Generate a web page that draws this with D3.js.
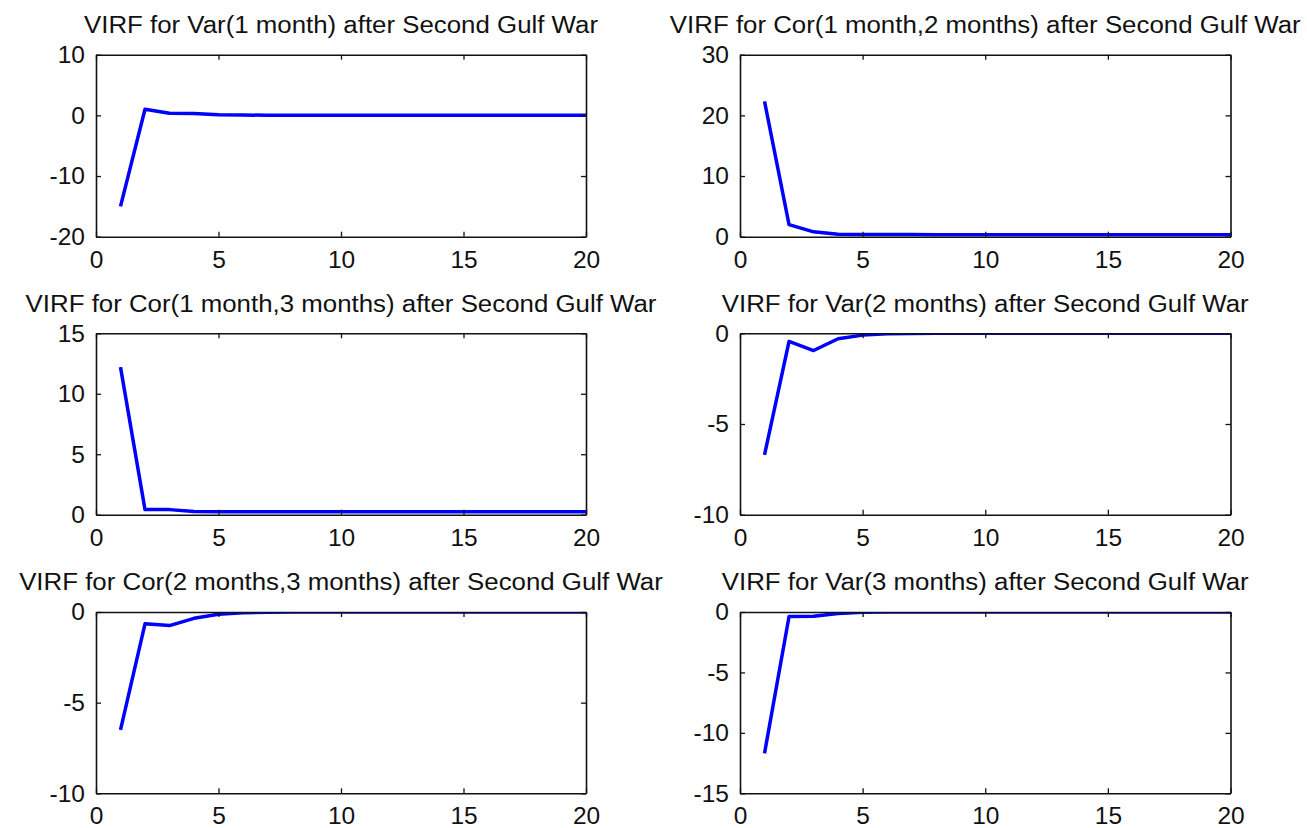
<!DOCTYPE html>
<html>
<head>
<meta charset="utf-8">
<script src="https://cdn.jsdelivr.net/npm/d3@7"></script>
<style>
  html, body { margin: 0; padding: 0; background: #fff; }
  svg { display: block; }
  .tick text { font-family: "Liberation Sans", Arial, sans-serif; fill: #111; }
</style>
</head>
<body>
<svg id="fig" width="1307" height="828"></svg>
<script>
// Forecast horizon (months ahead)
const horizon = [1, 2, 3, 4, 5, 6, 7, 8, 9, 10, 11, 12, 13, 14, 15, 16, 17, 18, 19, 20];

// Volatility impulse responses after the Second Gulf War shock
const virfVar1 = [-15.0, 1.0, 0.35, 0.3, 0.1, 0.05, 0.03, 0.02, 0.01, 0.01, 0, 0, 0, 0, 0, 0, 0, 0, 0, 0];
const virfCor12 = [22.3, 2.0, 0.8, 0.4, 0.36, 0.35, 0.35, 0.34, 0.34, 0.34, 0.34, 0.34, 0.34, 0.34, 0.34, 0.34, 0.34, 0.34, 0.34, 0.34];
const virfCor13 = [12.2, 0.42, 0.42, 0.27, 0.25, 0.24, 0.24, 0.24, 0.24, 0.24, 0.24, 0.24, 0.24, 0.24, 0.24, 0.24, 0.24, 0.24, 0.24, 0.24];
const virfVar2 = [-6.7, -0.45, -0.95, -0.3, -0.1, -0.03, -0.01, 0, 0, 0, 0, 0, 0, 0, 0, 0, 0, 0, 0, 0];
const virfCor23 = [-6.5, -0.65, -0.75, -0.35, -0.12, -0.04, -0.01, 0, 0, 0, 0, 0, 0, 0, 0, 0, 0, 0, 0, 0];
const virfVar3 = [-11.7, -0.37, -0.35, -0.12, -0.02, 0, 0, 0, 0, 0, 0, 0, 0, 0, 0, 0, 0, 0, 0, 0];

// Panel titles and y-axis ranges / ticks
const titles = [
  "VIRF for Var(1 month) after Second Gulf War",
  "VIRF for Cor(1 month,2 months) after Second Gulf War",
  "VIRF for Cor(1 month,3 months) after Second Gulf War",
  "VIRF for Var(2 months) after Second Gulf War",
  "VIRF for Cor(2 months,3 months) after Second Gulf War",
  "VIRF for Var(3 months) after Second Gulf War"
];
const series = [virfVar1, virfCor12, virfCor13, virfVar2, virfCor23, virfVar3];
const yDomains = [[-20, 10], [0, 30], [0, 15], [-10, 0], [-10, 0], [-15, 0]];
const yTicks = [[-20, -10, 0, 10], [0, 10, 20, 30], [0, 5, 10, 15], [-10, -5, 0], [-10, -5, 0], [-15, -10, -5, 0]];
const xDomain = [0, 20];
const xTicks = [0, 5, 10, 15, 20];

// Subplot grid (3 rows x 2 columns), in pixels
const cols = [[96, 586], [740, 1230.5]];
const rows = [[54.7, 236.7], [333.3, 514.7], [612, 793.3]];

const svg = d3.select("#fig");
const fmt = d => String(d);
const tickFont = 24.5;
const titleFont = 23;
const axisColor = "#111";

// Measure the first title once so every title uses the same horizontal scaling
const probe = svg.append("text")
  .style("font-family", '"Liberation Sans", Arial, sans-serif')
  .style("font-size", titleFont + "px")
  .text(titles[0]);
const stretch = 514 / probe.node().getComputedTextLength();
probe.remove();

series.forEach((vals, i) => {
  const [x0, x1] = cols[i % 2];
  const [y0, y1] = rows[Math.floor(i / 2)];

  const x = d3.scaleLinear().domain(xDomain).range([x0, x1]);
  const y = d3.scaleLinear().domain(yDomains[i]).range([y1, y0]);

  const g = svg.append("g");

  const clipId = "clip" + i;
  svg.append("clipPath").attr("id", clipId)
    .append("rect")
    .attr("x", x0).attr("y", y0)
    .attr("width", x1 - x0).attr("height", y1 - y0);

  // Response path
  const line = d3.line().x((d, j) => x(horizon[j])).y(d => y(d));
  g.append("path")
    .datum(vals)
    .attr("clip-path", `url(#${clipId})`)
    .attr("fill", "none")
    .attr("stroke", "#0000ff")
    .attr("stroke-width", 3.5)
    .attr("stroke-linejoin", "round")
    .attr("d", line);

  // Boxed axes with inward ticks on all four sides
  const styleAxis = sel => {
    sel.select(".domain").attr("stroke", axisColor).attr("stroke-width", 1.6);
    sel.selectAll(".tick line").attr("stroke", axisColor).attr("stroke-width", 1.3);
    sel.selectAll(".tick text").style("font-size", tickFont + "px");
  };

  g.append("g")
    .attr("transform", `translate(0,${y1})`)
    .call(d3.axisBottom(x).tickValues(xTicks).tickFormat(fmt)
      .tickSizeInner(-5).tickSizeOuter(0).tickPadding(13.5))
    .call(styleAxis);

  g.append("g")
    .attr("transform", `translate(0,${y0})`)
    .call(d3.axisTop(x).tickValues(xTicks).tickFormat("")
      .tickSizeInner(-5).tickSizeOuter(0))
    .call(styleAxis);

  g.append("g")
    .attr("transform", `translate(${x0},0)`)
    .call(d3.axisLeft(y).tickValues(yTicks[i]).tickFormat(fmt)
      .tickSizeInner(-5).tickSizeOuter(0).tickPadding(11))
    .call(styleAxis);

  g.append("g")
    .attr("transform", `translate(${x1},0)`)
    .call(d3.axisRight(y).tickValues(yTicks[i]).tickFormat("")
      .tickSizeInner(-5).tickSizeOuter(0))
    .call(styleAxis);

  // Panel title
  const t = g.append("text")
    .attr("x", (x0 + x1) / 2)
    .attr("y", y0 - 21.6)
    .attr("text-anchor", "middle")
    .style("font-family", '"Liberation Sans", Arial, sans-serif')
    .style("font-size", titleFont + "px")
    .style("fill", "#111")
    .text(titles[i]);
  const natural = t.node().getComputedTextLength();
  t.attr("textLength", natural * stretch).attr("lengthAdjust", "spacingAndGlyphs");
});
</script>
</body>
</html>
